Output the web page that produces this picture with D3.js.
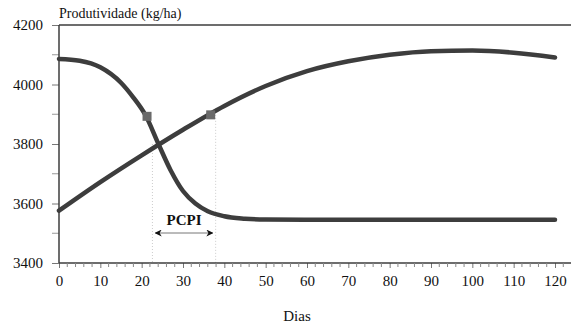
<!DOCTYPE html>
<html><head><meta charset="utf-8">
<script src="https://cdn.jsdelivr.net/npm/d3@7"></script>
<style>body{margin:0;background:#fff}text{font-family:"Liberation Serif","DejaVu Serif",serif}</style>
</head><body><svg id="c" width="571" height="327"></svg>
<script>
const decDays = [0,5,10,15,18,21,24,27,30,33,36,40,45,50,60,80,100,120];
const decVals = [4086,4080,4058,4006,3956,3895,3802,3712,3642,3600,3574,3557,3549,3546,3545,3545,3545,3545];
const incDays = [0,10,20,30,40,50,60,70,80,90,100,110,120];
const incVals = [3576,3672,3762,3848,3928,3995,4045,4078,4100,4112,4114,4107,4091];
const markerDays = [21.3,36.7];
const markerVals = [3893,3898];
const pcpiDays = [22.6,37.9];
const pcpiTops = [3800,3898];
const xTicks = [0,10,20,30,40,50,60,70,80,90,100,110,120];
const yTicks = [3400,3600,3800,4000,4200];

const svg = d3.select("#c");
const x = d3.scaleLinear().domain([0,120]).range([59,555]);
const y = d3.scaleLinear().domain([3400,4200]).range([263,25]);
const ink = "#3d3d3d";

svg.append("line").attr("x1",59).attr("x2",571).attr("y1",y(4200)).attr("y2",y(4200)).attr("stroke",ink).attr("stroke-width",1.5);

pcpiDays.forEach((d,i)=>{
  svg.append("line").attr("x1",x(d)).attr("x2",x(d)).attr("y1",y(pcpiTops[i])).attr("y2",y(3400))
    .attr("stroke","#ccc").attr("stroke-width",1).attr("stroke-dasharray","1,2");
});

const xAx = d3.axisBottom(x).tickValues(xTicks).tickSize(5).tickPadding(7).tickFormat(d3.format("d"));
const gx = svg.append("g").attr("transform",`translate(0,${y(3400)})`).call(xAx);
gx.attr("font-family",null);
gx.select(".domain").remove();
svg.append("line").attr("x1",59).attr("x2",571).attr("y1",y(3400)).attr("y2",y(3400)).attr("stroke",ink).attr("stroke-width",1.5);
gx.selectAll(".tick line").attr("stroke","#777");
gx.selectAll("text").attr("font-size",15).attr("fill","#111");
const minorX = d3.range(0,123,2).filter(d=>d%10!==0);
svg.append("g").selectAll("line").data(minorX).join("line")
  .attr("x1",d=>x(d)).attr("x2",d=>x(d)).attr("y1",y(3400)).attr("y2",y(3400)+4).attr("stroke","#888");

const yAx = d3.axisLeft(y).tickValues(yTicks).tickSize(7).tickPadding(9).tickFormat(d3.format("d"));
const gy = svg.append("g").attr("transform","translate(59,0)").call(yAx);
gy.attr("font-family",null);
gy.select(".domain").remove();
gy.selectAll(".tick line").attr("stroke","#777");
gy.selectAll("text").attr("font-size",15).attr("fill","#111");
svg.append("g").selectAll("line").data([3500,3700,3900,4100]).join("line")
  .attr("x1",52).attr("x2",59).attr("y1",d=>y(d)).attr("y2",d=>y(d)).attr("stroke","#999");
svg.append("line").attr("x1",59).attr("x2",59).attr("y1",y(4200)).attr("y2",y(3400)).attr("stroke",ink).attr("stroke-width",1.5);

const line = d3.line().x(d=>x(d[0])).y(d=>y(d[1])).curve(d3.curveMonotoneX);
svg.append("path").datum(decDays.map((d,i)=>[d,decVals[i]])).attr("d",line)
  .attr("fill","none").attr("stroke",ink).attr("stroke-width",4.5).attr("stroke-linecap","round");
svg.append("path").datum(incDays.map((d,i)=>[d,incVals[i]])).attr("d",line)
  .attr("fill","none").attr("stroke",ink).attr("stroke-width",4.5).attr("stroke-linecap","round");

svg.append("g").selectAll("rect").data(markerDays).join("rect")
  .attr("x",(d)=>x(d)-4.5).attr("y",(d,i)=>y(markerVals[i])-4.5).attr("width",9).attr("height",9).attr("fill","#6a6a6a");

svg.append("text").attr("x",(x(pcpiDays[0])+x(pcpiDays[1]))/2).attr("y",225).attr("text-anchor","middle")
  .attr("font-size",15).attr("font-weight","bold").attr("fill","#111").text("PCPI");
const defs = svg.append("defs");
defs.append("marker").attr("id","ah").attr("viewBox","0 0 10 10").attr("refX",9).attr("refY",5)
  .attr("markerWidth",7).attr("markerHeight",7).attr("orient","auto-start-reverse")
  .append("path").attr("d","M0,0 L10,5 L0,10 L3,5 Z").attr("fill","#111");
svg.append("line").attr("x1",x(pcpiDays[0])+3).attr("x2",x(pcpiDays[1])-3).attr("y1",233).attr("y2",233)
  .attr("stroke","#777").attr("stroke-width",1).attr("marker-start","url(#ah)").attr("marker-end","url(#ah)");

svg.append("text").attr("x",59).attr("y",18).attr("font-size",14).attr("fill","#111").text("Produtividade (kg/ha)");
svg.append("text").attr("x",297).attr("y",321).attr("text-anchor","middle").attr("font-size",15).attr("fill","#111").text("Dias");
</script></body></html>
